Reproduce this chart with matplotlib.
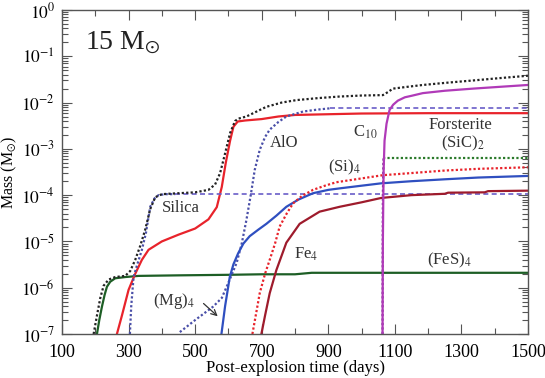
import math
import matplotlib
matplotlib.use("Agg")
import matplotlib.pyplot as plt
from matplotlib.ticker import FixedLocator, LogLocator, FuncFormatter, NullFormatter

plt.rcParams['font.family'] = ['Liberation Serif', 'DejaVu Serif']
plt.rcParams['mathtext.fontset'] = 'stix'

# ---- data ----
total_x = [195, 205, 215, 225, 240, 260, 290, 305, 320, 335, 350, 365, 380, 400, 450, 500, 540, 560, 575, 590, 605, 620, 630, 654, 714, 760, 804, 870, 934, 1000, 1064, 1080, 1094, 1140, 1184, 1260, 1334, 1420, 1500]
total_y = [1e-7, 2.5e-7, 6e-7, 1.1e-6, 1.5e-6, 1.7e-6, 1.8e-6, 2.3e-6, 4e-6, 8e-6, 1.8e-5, 5e-5, 9e-5, 1.05e-4, 1.1e-4, 1.15e-4, 1.3e-4, 1.7e-4, 3e-4, 8e-4, 2.2e-3, 4e-3, 4.5e-3, 5e-3, 8.1e-3, 1e-2, 1.13e-2, 1.25e-2, 1.35e-2, 1.42e-2, 1.45e-2, 1.7e-2, 2e-2, 2.2e-2, 2.4e-2, 2.7e-2, 3e-2, 3.4e-2, 3.8e-2]

red_x = [265, 280, 300, 320, 340, 360, 400, 450, 500, 540, 565, 580, 592, 605, 615, 628, 650, 700, 750, 800, 900, 1000, 1200, 1500]
red_y = [1e-7, 2.5e-7, 9e-7, 2e-6, 4e-6, 6.6e-6, 1e-5, 1.4e-5, 1.9e-5, 3e-5, 5.5e-5, 1.5e-4, 5e-4, 1.5e-3, 3e-3, 3.9e-3, 4.1e-3, 4.4e-3, 5e-3, 5.4e-3, 5.6e-3, 5.8e-3, 5.9e-3, 5.9e-3]

silica_x = [304, 308, 315, 325, 340, 352, 365, 378, 390, 410, 440]
silica_y = [1e-7, 4e-7, 1.7e-6, 3e-6, 6.6e-6, 1.5e-5, 5.6e-5, 8.5e-5, 1e-4, 1.05e-4, 1.05e-4]
silica_flat_x = [440, 1500]
silica_flat_y = [1.05e-4, 1.05e-4]

alo_x = [454, 500, 554, 580, 604, 625, 640, 654, 667, 679, 694, 710, 724, 750, 774, 824, 864, 904]
alo_y = [1.1e-7, 2e-7, 3.9e-7, 6e-7, 1.5e-6, 3.5e-6, 9e-6, 2.9e-5, 1e-4, 3.5e-4, 9.5e-4, 1.8e-3, 2.6e-3, 3.8e-3, 5e-3, 6.4e-3, 7e-3, 7.5e-3]
alo_flat_x = [904, 1500]
alo_flat_y = [7.5e-3, 7.5e-3]

mg4_x = [579, 590, 604, 615, 629, 645, 664, 690, 714, 744, 774, 810, 854, 900, 934, 1000, 1059, 1150, 1250, 1350, 1500]
mg4_y = [1e-7, 4e-7, 1.7e-6, 3.2e-6, 5.5e-6, 9e-6, 1.3e-5, 1.8e-5, 2.4e-5, 3.6e-5, 5.6e-5, 8e-5, 1.1e-4, 1.3e-4, 1.4e-4, 1.6e-4, 1.8e-4, 2e-4, 2.2e-4, 2.4e-4, 2.6e-4]

si4_x = [672, 684, 694, 710, 724, 740, 754, 775, 794, 820, 854, 890, 924, 1000, 1064, 1150, 1250, 1350, 1500]
si4_y = [1e-7, 3e-7, 7.6e-7, 2e-6, 4e-6, 9e-6, 2.1e-5, 4e-5, 6.6e-5, 9.5e-5, 1.3e-4, 1.6e-4, 1.9e-4, 2.3e-4, 2.7e-4, 3e-4, 3.4e-4, 3.7e-4, 4e-4]

fe4_x = [699, 710, 724, 744, 774, 814, 874, 934, 1000, 1059, 1150, 1250, 1260, 1370, 1380, 1500]
fe4_y = [1e-7, 2.5e-7, 7.6e-7, 2.4e-6, 9.4e-6, 2.4e-5, 4.4e-5, 5.6e-5, 7e-5, 8.7e-5, 1e-4, 1.07e-4, 1.13e-4, 1.15e-4, 1.22e-4, 1.25e-4]

fes4_x = [205, 212, 220, 228, 235, 245, 260, 290, 330, 450, 600, 700, 800, 850, 1000, 1500]
fes4_y = [1e-7, 2e-7, 3.9e-7, 7e-7, 1.05e-6, 1.35e-6, 1.6e-6, 1.7e-6, 1.8e-6, 1.85e-6, 1.9e-6, 1.95e-6, 1.95e-6, 2.1e-6, 2.1e-6, 2.1e-6]

c10_x = [1063, 1064, 1066, 1069, 1075, 1084, 1095, 1109, 1130, 1150, 1184, 1250, 1334, 1420, 1500]
c10_y = [1e-7, 1e-5, 3e-4, 1.5e-3, 3.5e-3, 6.9e-3, 9e-3, 1.1e-2, 1.3e-2, 1.4e-2, 1.6e-2, 1.8e-2, 2e-2, 2.2e-2, 2.4e-2]

forst_x = [1064, 1500]
forst_y = [6.3e-4, 6.3e-4]

sic2_x = [1063, 1064, 1066]
sic2_y = [1e-7, 1e-4, 6.3e-4]

xticks_major = [100, 300, 500, 700, 900, 1100, 1300, 1500]
xticks_minor = [200, 400, 600, 800, 1000, 1200, 1400]

# ---- figure ----
fig = plt.figure(figsize=(5.45, 3.78), dpi=100)
ax = fig.add_axes([62/545, 1-334/378, (528-62)/545, (334-10)/378])
ax.set_yscale('log')

lw = 1.6
ax.plot(fes4_x, fes4_y, color='#1d5e25', lw=lw)
ax.plot(red_x, red_y, color='#e8232b', lw=lw)
ax.plot(silica_x, silica_y, color='#4a4fa8', lw=lw, ls=(0, (1, 1)))
ax.plot(silica_flat_x, silica_flat_y, color='#6a5ec8', lw=1.2, ls=(0, (3, 2)))
ax.plot(alo_x, alo_y, color='#4a4fa8', lw=lw, ls=(0, (1, 1)))
ax.plot(alo_flat_x, alo_flat_y, color='#6a5ec8', lw=1.2, ls=(0, (3, 2)))
ax.plot(mg4_x, mg4_y, color='#2f4fc0', lw=lw)
ax.plot(si4_x, si4_y, color='#e8232b', lw=lw, ls=(0, (1, 1)))
ax.plot(fe4_x, fe4_y, color='#9e1b2c', lw=lw)
ax.plot(sic2_x, sic2_y, color='#6a2a8a', lw=lw, ls=(0, (1, 1)))
ax.plot(forst_x, forst_y, color='#2b7a2b', lw=lw, ls=(0, (1, 1)))
ax.plot(c10_x, c10_y, color='#b03ab8', lw=lw)
ax.plot(total_x, total_y, color='#222222', lw=lw, ls=(0, (1, 1)))

ax.set_xlim(100, 1500)
ax.set_ylim(1e-7, 1)

ax.xaxis.set_major_locator(FixedLocator(xticks_major))
ax.xaxis.set_minor_locator(FixedLocator(xticks_minor))
ax.yaxis.set_major_locator(LogLocator(base=10, numticks=20))
ax.yaxis.set_minor_locator(LogLocator(base=10, subs=range(2, 10), numticks=20))
ax.yaxis.set_major_formatter(FuncFormatter(lambda v, p: r'$10^{%d}$' % round(math.log10(v))))
ax.yaxis.set_minor_formatter(NullFormatter())

ax.tick_params(which='both', direction='in', top=True, right=True, color='#555555')
ax.tick_params(which='major', length=7, width=0.8)
ax.tick_params(axis='x', which='major', pad=7, labelsize=13)
ax.tick_params(axis='y', which='major', pad=5, labelsize=12.5)
ax.tick_params(which='minor', length=4, width=0.8)
for s in ax.spines.values():
    s.set_color('#555555')
    s.set_linewidth(1.0)

ax.set_xlabel('Post-explosion time (days)', fontsize=12)
ax.xaxis.set_label_coords(0.5, -0.08)
ax.set_ylabel(r'Mass (M$_{\odot}$)', fontsize=11.5)
ax.yaxis.set_label_coords(-0.093, 0.5)

ax.text(0.05, 0.9, r'15 M$_{\odot}$', transform=ax.transAxes, fontsize=20, va='center', ha='left', color='#222222')

tc = '#333333'
ax.text(457, 5.3e-5, 'Silica', fontsize=12, ha='center', va='center', color=tc)
ax.text(766, 1.35e-3, 'AlO', fontsize=12, ha='center', va='center', color=tc)
ax.text(1012, 2.3e-3, r'C$_{10}$', fontsize=12, ha='center', va='center', color=tc)
ax.text(1297, 3.3e-3, 'Forsterite', fontsize=12, ha='center', va='center', color=tc)
ax.text(1303, 1.3e-3, r'(SiC)$_2$', fontsize=12, ha='center', va='center', color=tc)
ax.text(949, 3.9e-4, r'(Si)$_4$', fontsize=12, ha='center', va='center', color=tc)
ax.text(835, 5.3e-6, r'Fe$_4$', fontsize=12, ha='center', va='center', color=tc)
ax.text(1264, 3.8e-6, r'(FeS)$_4$', fontsize=12, ha='center', va='center', color=tc)
ax.text(436, 5.2e-7, r'(Mg)$_4$', fontsize=12, ha='center', va='center', color=tc)
ax.annotate('', xy=(574, 2.2e-7), xytext=(519, 5e-7),
            arrowprops=dict(arrowstyle='->', color='#333333', lw=0.9))

fig.savefig('out.png', dpi=100)
